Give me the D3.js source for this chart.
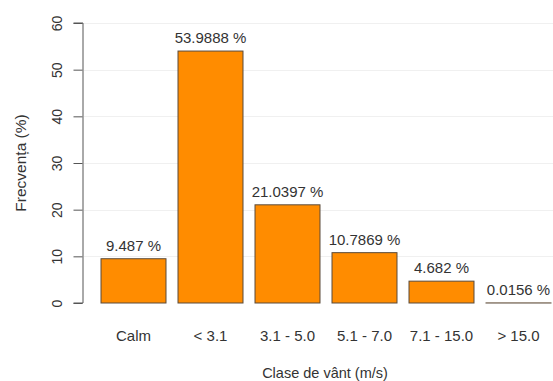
<!DOCTYPE html>
<html><head><meta charset="utf-8">
<script src="https://cdn.jsdelivr.net/npm/d3@7"></script>
<style>body{margin:0;background:#fff}svg{display:block}</style>
</head><body>
<svg id="c" width="553" height="381"></svg>
<script>
const categories = ["Calm", "< 3.1", "3.1 - 5.0", "5.1 - 7.0", "7.1 - 15.0", "> 15.0"];
const values = [9.487, 53.9888, 21.0397, 10.7869, 4.682, 0.0156];
const valueLabels = ["9.487 %", "53.9888 %", "21.0397 %", "10.7869 %", "4.682 %", "0.0156 %"];
const yTicks = [0, 10, 20, 30, 40, 50, 60];

const svg = d3.select("#c");
const font = "Liberation Sans, Arial, sans-serif";
const txt = "#333";

const y = d3.scaleLinear().domain([0, 60]).range([303, 23]);
const x = d3.scaleBand().domain(categories).range([95, 557]).paddingInner(0.156).paddingOuter(0.078);

// faint gridlines
svg.append("g").selectAll("line").data(yTicks.slice(1)).join("line")
  .attr("x1", 84).attr("x2", 553)
  .attr("y1", d => Math.round(y(d)) + 0.5).attr("y2", d => Math.round(y(d)) + 0.5)
  .attr("stroke", "#f0f0f0").attr("stroke-width", 1);

// y axis
const yAxis = d3.axisLeft(y).tickValues(yTicks).tickSize(9).tickFormat(d3.format("d"));
const ga = svg.append("g").attr("transform", "translate(82.5,0)").call(yAxis);
ga.select(".domain").attr("d", `M-9,${y(0)}H0.5V${y(60)}H-9`).attr("stroke", "#555").attr("stroke-width", 1);
ga.selectAll(".tick line").attr("stroke", "#555");
ga.selectAll(".tick text")
  .attr("transform", "rotate(-90)")
  .attr("x", 0).attr("y", -20.5).attr("dy", "0")
  .style("text-anchor", "middle")
  .attr("fill", txt).style("font-family", font).style("font-size", "14px");

// bars
svg.append("g").selectAll("rect").data(values).join("rect")
  .attr("x", (d, i) => x(categories[i]))
  .attr("width", x.bandwidth())
  .attr("y", d => y(d))
  .attr("height", d => y(0) - y(d))
  .attr("fill", "#FF8C00")
  .attr("stroke", "#5a4a3a").attr("stroke-width", 1);

// value labels
svg.append("g").selectAll("text").data(values).join("text")
  .attr("x", (d, i) => x(categories[i]) + x.bandwidth() / 2)
  .attr("y", d => y(d) - 8)
  .attr("text-anchor", "middle")
  .attr("fill", txt).style("font-family", font).style("font-size", "15px")
  .text((d, i) => valueLabels[i]);

// category labels
svg.append("g").selectAll("text").data(categories).join("text")
  .attr("x", d => x(d) + x.bandwidth() / 2)
  .attr("y", 341)
  .attr("text-anchor", "middle")
  .attr("fill", txt).style("font-family", font).style("font-size", "15px")
  .text(d => d);

// axis titles
svg.append("text").attr("x", 325).attr("y", 378)
  .attr("text-anchor", "middle").attr("fill", txt)
  .style("font-family", font).style("font-size", "14.5px")
  .text("Clase de vânt (m/s)");
svg.append("text").attr("transform", "translate(25.5,163) rotate(-90)")
  .attr("text-anchor", "middle").attr("fill", txt)
  .style("font-family", font).style("font-size", "15.5px")
  .text("Frecvența (%)");
</script>
</body></html>
